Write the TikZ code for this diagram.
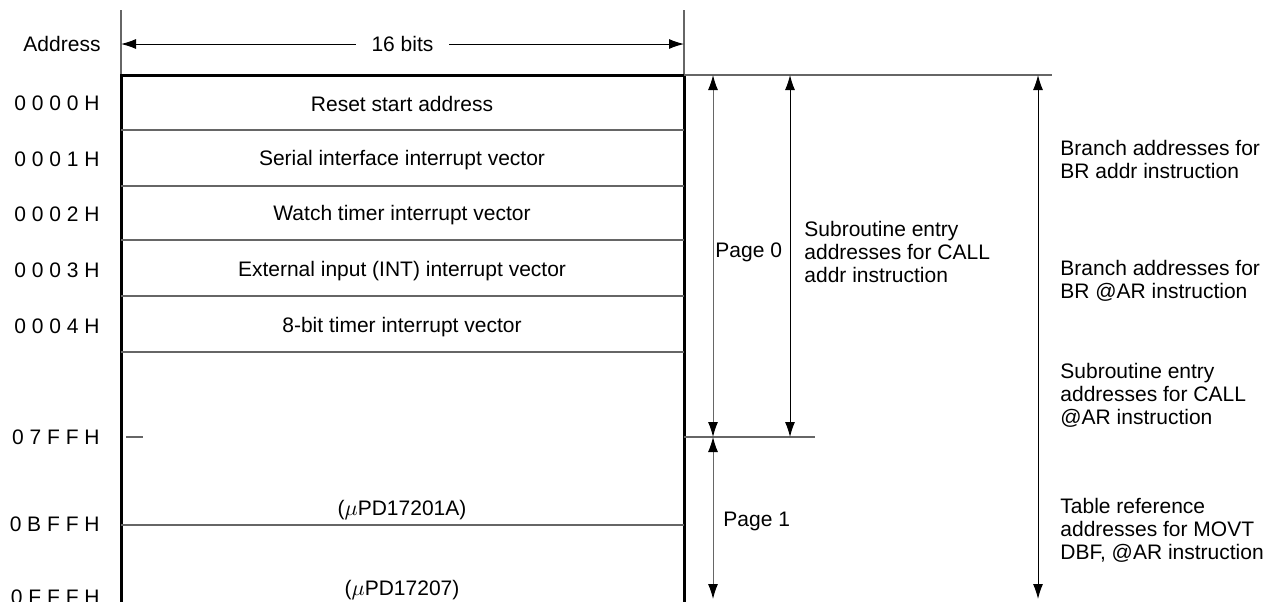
\documentclass[tikz,border=0pt]{standalone}
\usepackage{fontspec}
\setmainfont{Liberation Sans}
\usetikzlibrary{arrows.meta}

\begin{document}
\begin{tikzpicture}[
  x=0.5pt, y=-0.5pt,
  font=\fontsize{10.5}{11.5}\selectfont,
  thinline/.style={draw=black!60, line width=0.6pt},
  frame/.style={draw=black, line width=1.5pt},
  dimline/.style={line width=0.5pt, {Latex[length=7.5pt,width=5pt,color=black]}-{Latex[length=7.5pt,width=5pt,color=black]}},
  addr/.style={anchor=east, inner sep=0pt},
  cell/.style={inner sep=0pt},
  note/.style={anchor=west, align=left, inner sep=0pt}
]
\useasboundingbox (0,0) rectangle (1278,601);
\clip (0,0) rectangle (1278,601);
% Frame of the memory map
\coordinate (tl) at (121,75);
\coordinate (tr) at (684,75);
\draw[thinline] (121,10) -- (tl);
\draw[thinline] (684,10) -- (tr);
\draw[frame] (121,610) |- (tr) -- (684,610);
% Width
\node at (62,44) (addrhead) {Address};
\coordinate (wl) at (121,44);
\coordinate (wr) at (684,44);
\draw[dimline] (wl) -- node[fill=white, inner xsep=8pt] (width) {16 bits} (wr);
% Rows
\node[addr] at (100,103) (a0) {0 0 0 0 H};
\node[addr] at (100,159) (a1) {0 0 0 1 H};
\node[addr] at (100,214) (a2) {0 0 0 2 H};
\node[addr] at (100,270) (a3) {0 0 0 3 H};
\node[addr] at (100,326) (a4) {0 0 0 4 H};
\node[addr] at (100,437) (a5) {0 7 F F H};
\node[addr] at (100,524) (a6) {0 B F F H};
\node[addr] at (100,597) (a7) {0 F F F H};
\node[cell] at (402,104) (reset) {Reset start address};
\node[cell] at (402,160) (serial) {Serial interface interrupt vector};
\node[cell] at (402,215) (watch) {Watch timer interrupt vector};
\node[cell] at (402,271) (extint) {External input (INT) interrupt vector};
\node[cell] at (402,327) (timer) {8-bit timer interrupt vector};
\node[cell] at (402,510) (pd1) {($\mu$PD17201A)};
\node[cell] at (402,590) (pd2) {($\mu$PD17207)};
\foreach \y in {130,186,240,296,352,525}
  \draw[thinline] (121,\y) -- (684,\y);
\draw[thinline] (126,437) -- (143,437);
% Ranges
\coordinate (pg0t) at (713,75);
\coordinate (pg0b) at (713,437);
\coordinate (pg1b) at (713,599);
\coordinate (callt) at (790,75);
\coordinate (callb) at (790,437);
\coordinate (brt) at (1038,75);
\coordinate (brb) at (1038,599);
\draw[thinline] (tr) -- (1052,75);
\draw[thinline] (684,437) -- (815,437);
\draw[dimline, draw=black!60] (pg0t) -- (pg0b);
\draw[dimline, draw=black!60] (pg0b) -- (pg1b);
\draw[dimline] (callt) -- (callb);
\draw[dimline] (brt) -- (brb);
\node[note] at (715,252) (page0) {Page 0};
\node[note] at (723,521) (page1) {Page 1};
\node[note] at (804,252) (callnote) {Subroutine entry\\addresses for CALL\\addr instruction};
\node[note] at (1060,159) (brnote) {Branch addresses for\\BR addr instruction};
\node[note] at (1060,281) (bratnote) {Branch addresses for\\BR @AR instruction};
\node[note] at (1060,395) (callatnote) {Subroutine entry\\addresses for CALL\\@AR instruction};
\node[note] at (1060,530) (movtnote) {Table reference\\addresses for MOVT\\DBF, @AR instruction};
\end{tikzpicture}
\end{document}
